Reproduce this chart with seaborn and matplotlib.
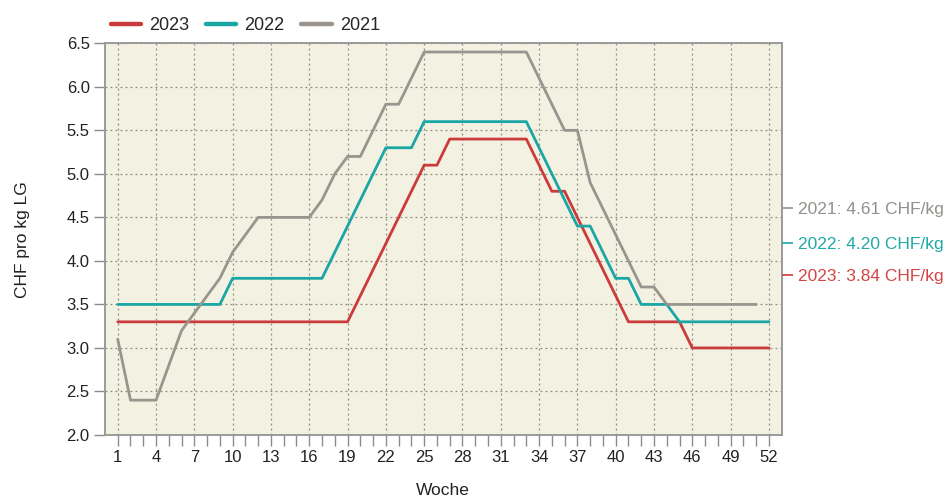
import pandas as pd
import matplotlib.pyplot as plt
import seaborn as sns
import numpy as np

# Weekly prices CHF per kg LG
weeks_2023 = list(range(1, 53))
price_2023 = [3.3] * 19 + [3.6, 3.9, 4.2, 4.5, 4.8, 5.1, 5.1] + [5.4] * 7 + \
             [5.1, 4.8, 4.8, 4.5, 4.2, 3.9, 3.6] + [3.3] * 5 + [3.0] * 7

weeks_2022 = list(range(1, 53))
price_2022 = [3.5] * 9 + [3.8] * 8 + [4.1, 4.4, 4.7, 5.0, 5.3, 5.3, 5.3] + [5.6] * 9 + \
             [5.3, 5.0, 4.7, 4.4, 4.4, 4.1, 3.8, 3.8, 3.5, 3.5, 3.5] + [3.3] * 8

weeks_2021 = list(range(1, 52))
price_2021 = [3.1, 2.4, 2.4, 2.4, 2.8, 3.2, 3.4, 3.6, 3.8, 4.1, 4.3, 4.5, 4.5, 4.5, 4.5, 4.5,
              4.7, 5.0, 5.2, 5.2, 5.5, 5.8, 5.8, 6.1] + [6.4] * 9 + \
             [6.1, 5.8, 5.5, 5.5, 4.9, 4.6, 4.3, 4.0, 3.7, 3.7, 3.5] + [3.5] * 7

years = ['2023', '2022', '2021']
averages = {'2021': 4.61, '2022': 4.20, '2023': 3.84}
colors = {'2023': '#cc3b3c', '2022': '#1aa6a4', '2021': '#9a948e'}
text_colors = {'2023': '#d24646', '2022': '#20aaa6', '2021': '#938f8b'}

x_ticks = list(range(1, 53, 3))
y_ticks = [2.0, 2.5, 3.0, 3.5, 4.0, 4.5, 5.0, 5.5, 6.0, 6.5]

df = pd.concat([
    pd.DataFrame({'Woche': weeks_2023, 'Preis': price_2023, 'Jahr': '2023'}),
    pd.DataFrame({'Woche': weeks_2022, 'Preis': price_2022, 'Jahr': '2022'}),
    pd.DataFrame({'Woche': weeks_2021, 'Preis': price_2021, 'Jahr': '2021'}),
])

sns.set_style("ticks")
plt.rcParams['font.family'] = ['Liberation Sans', 'DejaVu Sans']

fig = plt.figure(figsize=(9.49, 4.99), dpi=100)
ax = fig.add_axes([0.1106, 0.1283, 0.7131, 0.7849])
ax.set_facecolor('#f3f2e2')

sns.lineplot(data=df, x='Woche', y='Preis', hue='Jahr', hue_order=years,
             palette=colors, linewidth=2.0, ax=ax)

ax.set_xlim(0, 53)
ax.set_ylim(2.0, 6.5)
ax.set_xticks(x_ticks)
ax.set_xticks(range(1, 53), minor=True)
ax.set_yticks(y_ticks)
ax.set_yticklabels([f'{v:.1f}' for v in y_ticks])

ax.grid(True, which='major', linestyle=(0, (1.5, 2.5)), color='#8a8a80', linewidth=0.9)
ax.tick_params(axis='both', which='both', direction='out', length=8, width=1,
               color='#8c8c8c', labelsize=12, labelcolor='#222222', pad=3)

for s in ax.spines.values():
    s.set_color('#9a9a9a')
    s.set_linewidth(1.4)

ax.set_xlabel('Woche', fontsize=12.5, color='#222222', labelpad=13)
ax.set_ylabel('CHF pro kg LG', fontsize=12.5, color='#222222', labelpad=26)

leg = ax.legend(ncol=3, loc='lower left', bbox_to_anchor=(-0.005, 1.0), frameon=False,
                fontsize=13, handlelength=1.7, columnspacing=0.9, borderaxespad=0.1,
                handletextpad=0.45)
for line in leg.get_lines():
    line.set_linewidth(3.2)

# Average annotations on the right side, one twin axis per year so each tick keeps its colour
for y in ['2021', '2022', '2023']:
    ax2 = ax.twinx()
    ax2.set_ylim(ax.get_ylim())
    ax2.set_yticks([averages[y]])
    ax2.set_yticklabels([f'{y}: {averages[y]:.2f} CHF/kg'])
    ax2.tick_params(axis='y', direction='out', length=8, width=1.2, labelsize=12.5,
                    pad=4, color=colors[y], labelcolor=text_colors[y])
    for s in ax2.spines.values():
        s.set_visible(False)
    ax2.grid(False)

plt.savefig('out.png', dpi=100)
plt.close()
